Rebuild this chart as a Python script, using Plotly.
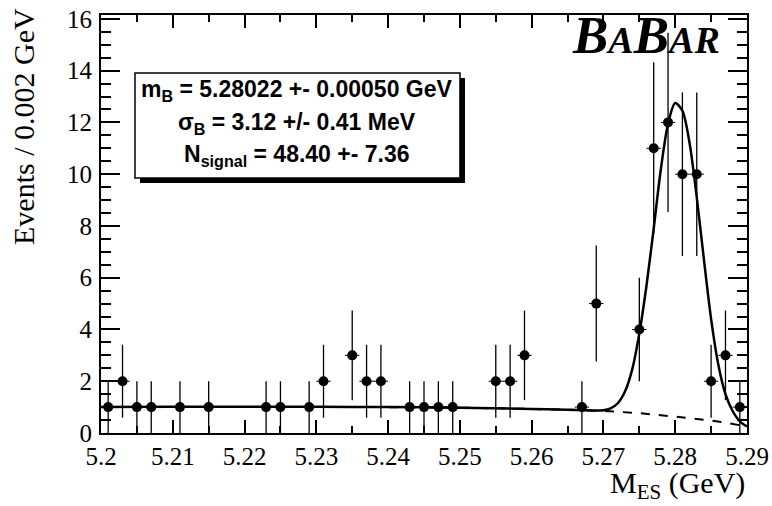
import plotly.graph_objects as go

# ---- data ----
bin_centers = [5.201, 5.203, 5.205, 5.207, 5.211, 5.215, 5.223, 5.225, 5.229, 5.231,
               5.235, 5.237, 5.239, 5.243, 5.245, 5.247, 5.249, 5.255, 5.257, 5.259,
               5.267, 5.269, 5.275, 5.277, 5.279, 5.281, 5.283, 5.285, 5.287, 5.289]
counts = [1, 2, 1, 1, 1, 1, 1, 1, 1, 2,
          3, 2, 2, 1, 1, 1, 1, 2, 2, 3,
          1, 5, 4, 11, 12, 10, 10, 2, 3, 1]
count_errors = [1.0, 1.41, 1.0, 1.0, 1.0, 1.0, 1.0, 1.0, 1.0, 1.41,
                1.73, 1.41, 1.41, 1.0, 1.0, 1.0, 1.0, 1.41, 1.41, 1.73,
                1.0, 2.24, 2.0, 3.32, 3.46, 3.16, 3.16, 1.41, 1.73, 1.0]
half_bin = [0.001] * len(bin_centers)

fit_x = [5.200, 5.210, 5.220, 5.230, 5.240, 5.250, 5.260, 5.265, 5.270, 5.271,
         5.272, 5.273, 5.274, 5.275, 5.276, 5.277, 5.278, 5.279, 5.280, 5.281,
         5.282, 5.283, 5.284, 5.285, 5.286, 5.287, 5.288, 5.289, 5.290]
fit_total = [1.00, 1.01, 1.01, 1.01, 1.00, 0.98, 0.93, 0.90, 0.88, 0.95,
             1.15, 1.60, 2.45, 3.85, 5.70, 7.90, 10.20, 11.95, 12.75, 12.45,
             11.20, 9.10, 6.70, 4.40, 2.65, 1.50, 0.85, 0.45, 0.25]

bkg_x = [5.200, 5.220, 5.240, 5.250, 5.260, 5.265, 5.270, 5.275, 5.280, 5.283,
         5.285, 5.287, 5.289, 5.290]
bkg_y = [1.00, 1.01, 1.00, 0.98, 0.93, 0.90, 0.85, 0.77, 0.63, 0.55,
         0.48, 0.40, 0.30, 0.22]

stat_lines = ["m<sub>B</sub> = 5.28022 +- 0.00050 GeV",
              "σ<sub>B</sub> = 3.12 +/- 0.41 MeV",
              "N<sub>signal</sub> = 48.40 +- 7.36"]

x_ticks = [5.2, 5.21, 5.22, 5.23, 5.24, 5.25, 5.26, 5.27, 5.28, 5.29]
x_tick_labels = ["5.2", "5.21", "5.22", "5.23", "5.24", "5.25", "5.26", "5.27", "5.28", "5.29"]
y_ticks = [0, 2, 4, 6, 8, 10, 12, 14, 16]

SERIF = "Liberation Serif, Times New Roman, serif"
SANS = "Liberation Sans, Arial, sans-serif"

fig = go.Figure()

fig.add_trace(go.Scatter(x=bkg_x, y=bkg_y, mode="lines",
                         line=dict(color="black", width=2, dash="dash"),
                         hoverinfo="skip", showlegend=False))
fig.add_trace(go.Scatter(x=fit_x, y=fit_total, mode="lines",
                         line=dict(color="black", width=2.5, shape="spline", smoothing=0.8),
                         hoverinfo="skip", showlegend=False))
fig.add_trace(go.Scatter(
    x=bin_centers, y=counts, mode="markers",
    marker=dict(color="black", size=10, symbol="circle"),
    error_y=dict(type="data", array=count_errors, symmetric=True,
                 color="black", thickness=1.3, width=0),
    error_x=dict(type="data", array=half_bin, symmetric=True,
                 color="black", thickness=1, width=0),
    showlegend=False))

axis_common = dict(showline=True, linecolor="black", linewidth=2, mirror="ticks",
                   ticks="inside", tickcolor="black", tickwidth=1.5,
                   showgrid=False, zeroline=False, automargin=False)

fig.update_xaxes(range=[5.2, 5.29], tickvals=x_ticks, ticktext=x_tick_labels,
                 ticklen=13, ticklabelstandoff=0,
                 tickfont=dict(family=SERIF, size=25, color="black"),
                 minor=dict(ticks="inside", dtick=0.005, tick0=5.2, ticklen=7,
                            tickcolor="black", tickwidth=1.5, showgrid=False),
                 **axis_common)
fig.update_yaxes(range=[0, 16.15], tickvals=y_ticks, ticklen=19,
                 ticklabelstandoff=2,
                 tickfont=dict(family=SERIF, size=25, color="black"),
                 minor=dict(ticks="inside", dtick=0.5, tick0=0, ticklen=10,
                            tickcolor="black", tickwidth=1.5, showgrid=False),
                 **axis_common)

# stat box (shadow + box), in paper coords
bx0, bx1, by0, by1 = 0.0526, 0.5557, 0.610, 0.861
sx, sy = 5 / 646, 5 / 418
fig.add_shape(type="rect", xref="paper", yref="paper",
              x0=bx0 + sx, x1=bx1 + sx, y0=by0 - sy, y1=by1 - sy,
              fillcolor="black", line=dict(width=0))
fig.add_shape(type="rect", xref="paper", yref="paper",
              x0=bx0, x1=bx1, y0=by0, y1=by1,
              fillcolor="white", line=dict(color="black", width=1.5))

line_y_px = [90, 123, 155]
for txt, ypx in zip(stat_lines, line_y_px):
    fig.add_annotation(text="<b>" + txt + "</b>", xref="paper", yref="paper",
                       x=(bx0 + bx1) / 2, y=(433 - ypx) / 418,
                       xanchor="center", yanchor="middle", showarrow=False,
                       font=dict(family=SANS, size=23, color="black"))

# BaBar logo
fig.add_annotation(
    text="<b><i>B<span style='font-size:38px'>A</span>B<span style='font-size:38px'>AR</span></i></b>",
    xref="paper", yref="paper", x=(722 - 101) / 646, y=(433 - 35) / 418,
    xanchor="right", yanchor="middle", showarrow=False,
    font=dict(family=SERIF, size=53, color="black"))

# axis titles
fig.add_annotation(text="Events / 0.002 GeV", xref="paper", yref="paper",
                   x=(24 - 101) / 646, y=(433 - 127) / 418, textangle=-90,
                   xanchor="center", yanchor="middle", showarrow=False,
                   font=dict(family=SERIF, size=30, color="black"))
fig.add_annotation(text="M<sub>ES</sub> (GeV)", xref="paper", yref="paper",
                   x=1.0, y=(433 - 485) / 418,
                   xanchor="right", yanchor="middle", showarrow=False,
                   font=dict(family=SERIF, size=30, color="black"))

fig.update_layout(width=772, height=506,
                  margin=dict(l=101, r=25, t=15, b=73, autoexpand=False),
                  paper_bgcolor="white", plot_bgcolor="white",
                  showlegend=False)

fig.write_html("out.html", config={"displayModeBar": False},
               post_script="document.body.style.margin='0';")
